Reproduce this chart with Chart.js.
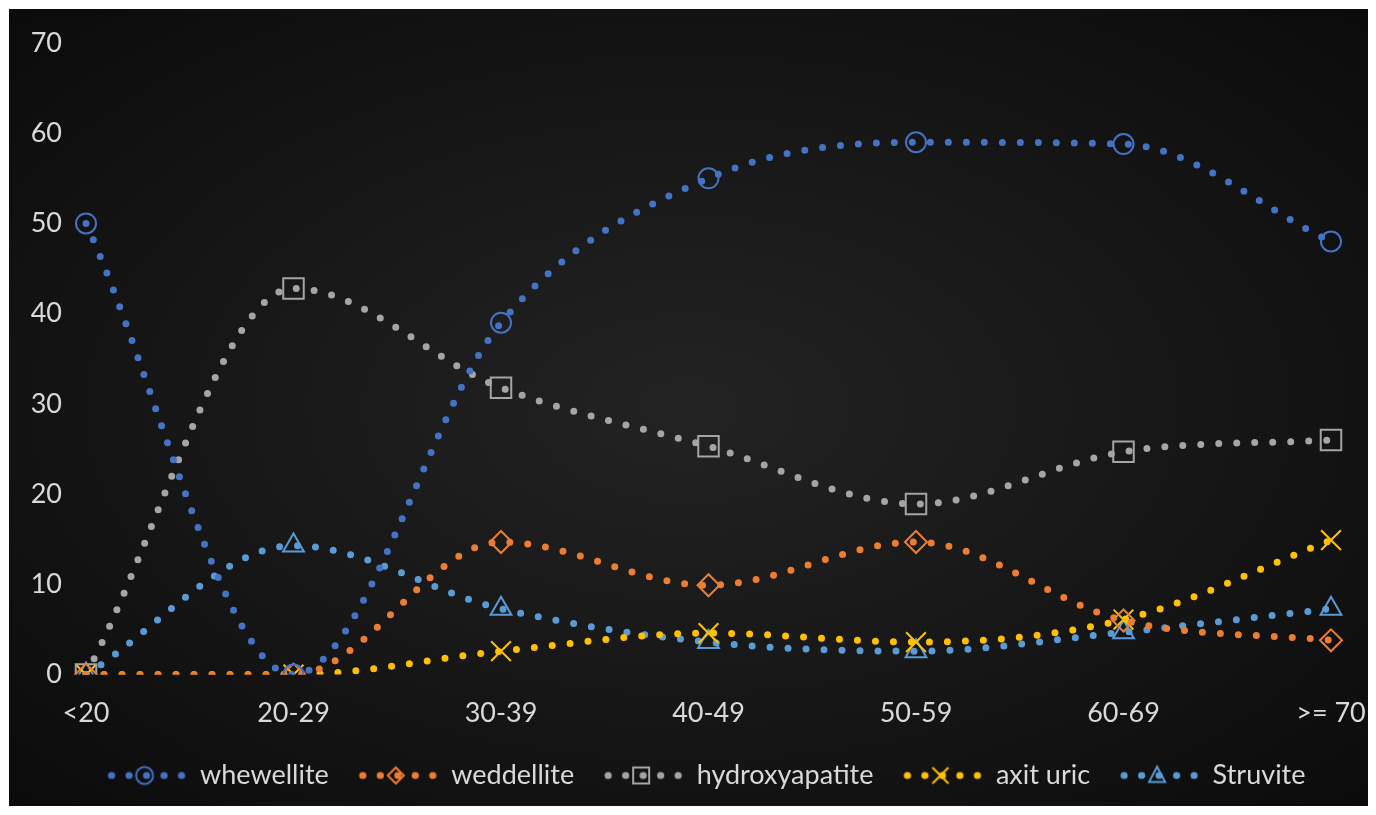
<!DOCTYPE html>
<html>
<head>
<meta charset="utf-8">
<script src="https://cdn.jsdelivr.net/npm/chart.js@4.4.0/dist/chart.umd.min.js"></script>
<style>
    html, body { margin: 0; padding: 0; background: #ffffff; }
    #wrap {
        position: absolute; left: 9px; top: 9px; width: 1359px; height: 797px;
        background: radial-gradient(ellipse at 50% 50%, #232323 0%, #0b0b0b 100%);
    }
</style>
</head>
<body>
<div id="wrap"><canvas id="stoneChart"></canvas></div>
<script>
// categories and series
const categories = ['<20', '20-29', '30-39', '40-49', '50-59', '60-69', '>= 70'];
const whewellite = [50, 0, 39, 55, 59, 58.8, 48];
const weddellite = [0, 0, 14.7, 9.9, 14.7, 6, 3.8];
const hydroxyapatite = [0, 42.8, 31.8, 25.3, 18.9, 24.7, 26];
const axitUric = [0, 0, 2.6, 4.6, 3.6, 6.1, 14.9];
const struvite = [0, 14.3, 7.3, 3.6, 2.6, 4.7, 7.3];
const yTicks = [0, 10, 20, 30, 40, 50, 60, 70];

const seriesNames = ['whewellite', 'weddellite', 'hydroxyapatite', 'axit uric', 'Struvite'];
const seriesData = [whewellite, weddellite, hydroxyapatite, axitUric, struvite];
const seriesColors = ['#4472C4', '#ED7D31', '#A5A5A5', '#FFC000', '#5B9BD5'];
const seriesMarkers = ['circle', 'rectRot', 'rect', 'crossRot', 'triangle'];
const markerRadius = [10, 11, 14.5, 14, 12];

const textColor = '#d9d9d9';
const fontFamily = 'Lato, "Open Sans", sans-serif';

/**
 * Draws a small marker shape on a 2d context
 */
function drawMarker(ctx, style, x, y, r) {
    ctx.beginPath();
    if (style === 'circle') {
        ctx.arc(x, y, r, 0, Math.PI * 2);
    } else if (style === 'rectRot') {
        ctx.moveTo(x - r, y); ctx.lineTo(x, y - r); ctx.lineTo(x + r, y); ctx.lineTo(x, y + r); ctx.closePath();
    } else if (style === 'rect') {
        ctx.rect(x - r, y - r, 2 * r, 2 * r);
    } else if (style === 'crossRot') {
        ctx.moveTo(x - r, y - r); ctx.lineTo(x + r, y + r);
        ctx.moveTo(x + r, y - r); ctx.lineTo(x - r, y + r);
    } else if (style === 'triangle') {
        ctx.moveTo(x, y - r * 1.1); ctx.lineTo(x + r, y + r * 0.8); ctx.lineTo(x - r, y + r * 0.8); ctx.closePath();
    }
    ctx.stroke();
}

// legend icons: dotted line with the marker in the middle
function makeLegendIcon(color, style) {
    const c = document.createElement('canvas');
    c.width = 80;
    c.height = 26;
    const ctx = c.getContext('2d');
    ctx.fillStyle = color;
    [-35, -17.5, 0, 17.5, 35].forEach(dx => {
        ctx.beginPath();
        ctx.arc(40 + dx, 13, 3.6, 0, Math.PI * 2);
        ctx.fill();
    });
    ctx.strokeStyle = color;
    ctx.lineWidth = 2;
    drawMarker(ctx, style, 38, 13, style === 'circle' ? 8.5 : 8);
    return c;
}

const legendIcons = seriesColors.map((c, i) => makeLegendIcon(c, seriesMarkers[i]));

// the legend sits centred under the plot, not under the whole canvas
const legendShift = {
    id: 'legendShift',
    afterLayout(chart) {
        chart.legend.left += 36;
        chart.legend.right += 36;
    }
};

document.addEventListener('DOMContentLoaded', function() {
    const ctx = document.getElementById('stoneChart').getContext('2d');

    const datasets = seriesNames.map((name, i) => ({
        label: name,
        data: seriesData[i],
        borderColor: seriesColors[i],
        borderWidth: 7,
        borderDash: [0, 18],
        borderCapStyle: 'round',
        cubicInterpolationMode: 'monotone',
        fill: false,
        pointStyle: seriesMarkers[i],
        pointRadius: markerRadius[i],
        pointHoverRadius: markerRadius[i],
        pointBorderWidth: 2,
        pointBorderColor: seriesColors[i],
        pointBackgroundColor: 'rgba(0,0,0,0)'
    }));

    new Chart(ctx, {
        type: 'line',
        data: { labels: categories, datasets: datasets },
        plugins: [legendShift],
        options: {
            responsive: true,
            maintainAspectRatio: false,
            animation: false,
            layout: { padding: { left: 0, right: 37, top: 34, bottom: 7 } },
            scales: {
                x: {
                    afterFit: scale => {
                        scale.height -= 18;
                        scale.paddingLeft = 0;
                        scale.paddingRight = 0;
                    },
                    grid: { display: false, drawTicks: false },
                    border: { display: false },
                    ticks: { color: textColor, padding: 22, font: { family: fontFamily, size: 27 }, maxRotation: 0 }
                },
                y: {
                    min: 0,
                    max: 70,
                    afterBuildTicks: scale => { scale.ticks = yTicks.map(v => ({ value: v })); },
                    afterFit: scale => {
                        scale.width = 77;
                        scale.paddingTop = 0;
                        scale.paddingBottom = 0;
                    },
                    grid: { display: false, drawTicks: false },
                    border: { display: false },
                    ticks: { color: textColor, padding: 24, font: { family: fontFamily, size: 27 } }
                }
            },
            plugins: {
                tooltip: { enabled: false },
                legend: {
                    position: 'bottom',
                    align: 'center',
                    labels: {
                        color: textColor,
                        font: { family: fontFamily, size: 27 },
                        usePointStyle: true,
                        pointStyleWidth: 80,
                        boxHeight: 26,
                        padding: 29,
                        generateLabels: chart => Chart.defaults.plugins.legend.labels.generateLabels(chart)
                            .map((item, i) => Object.assign(item, { pointStyle: legendIcons[i] }))
                    }
                }
            }
        }
    });
});
</script>
</body>
</html>
